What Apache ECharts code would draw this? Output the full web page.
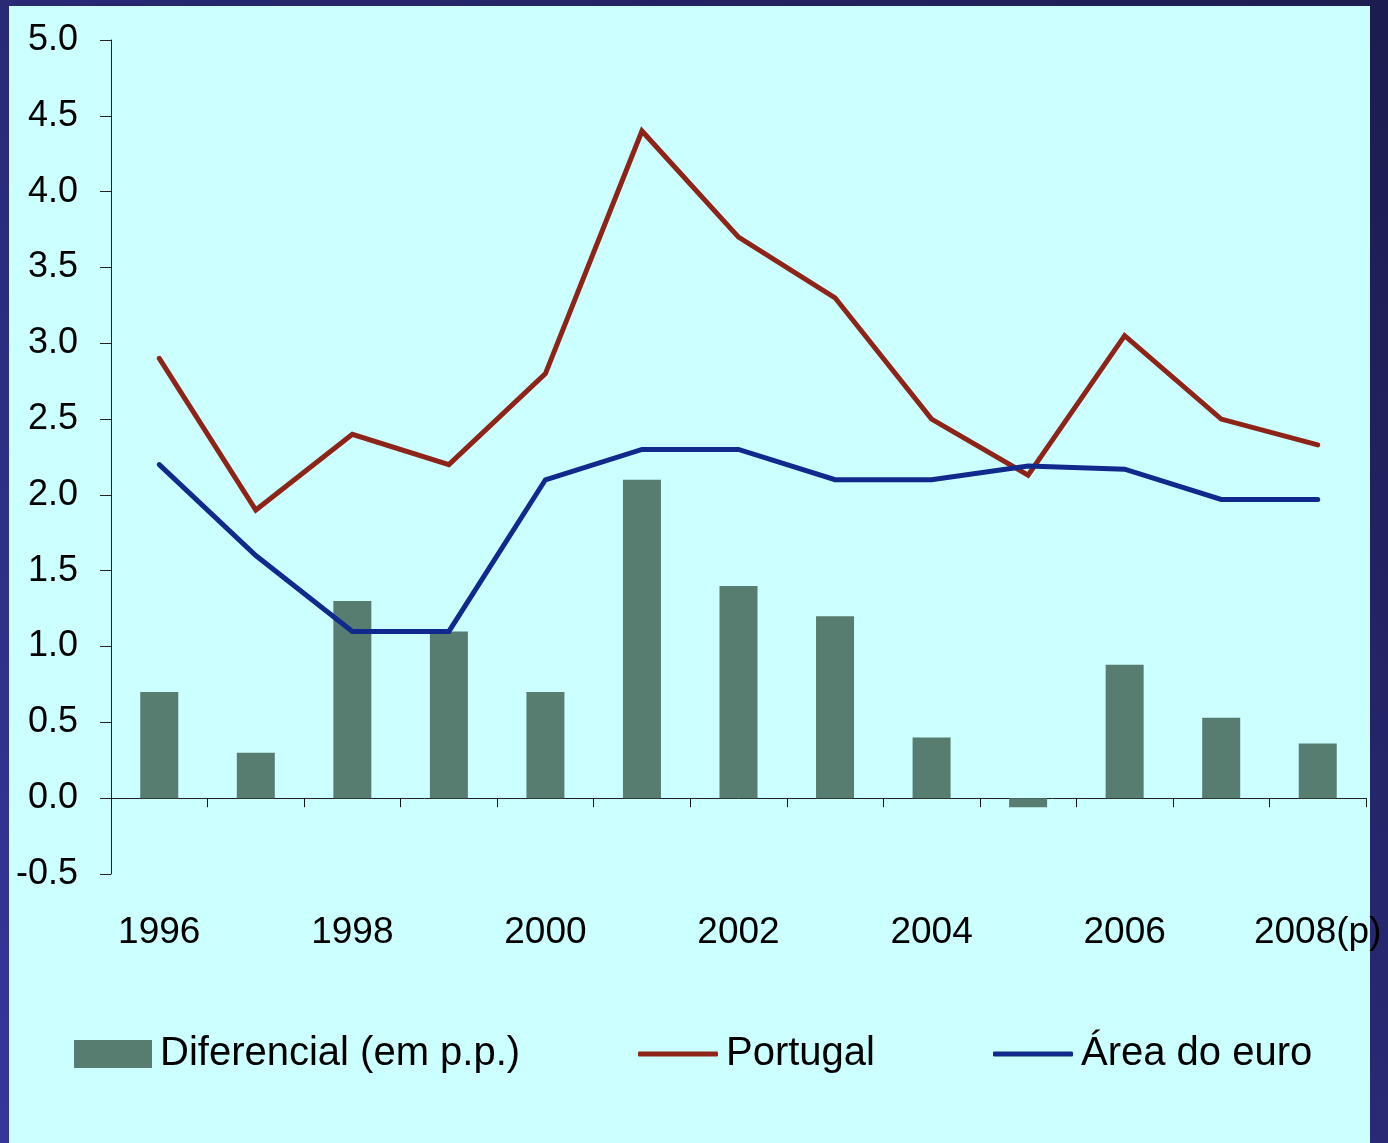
<!DOCTYPE html>
<html>
<head>
<meta charset="utf-8">
<script src="https://cdn.jsdelivr.net/npm/echarts@6/dist/echarts.min.js"></script>
<style>
  html, body { margin: 0; padding: 0; }
  body {
    width: 1388px; height: 1143px; overflow: hidden; position: relative;
    background: linear-gradient(to top right, #36369a, #1c1c50);
  }
  #panel {
    position: absolute; left: 9px; top: 6px; width: 1361px; height: 1137px;
    background: #CCFFFF;
  }
  #chart {
    position: absolute; left: 0; top: 0; width: 1388px; height: 1143px;
  }
</style>
</head>
<body>
<div id="panel"></div>
<div id="chart"></div>
<script>
// Inflation, Portugal vs euro area (%), and the differential in percentage points
const years = ['1996', '1997', '1998', '1999', '2000', '2001', '2002', '2003', '2004', '2005', '2006', '2007', '2008(p)'];
const portugal = [2.9, 1.9, 2.4, 2.2, 2.8, 4.4, 3.7, 3.3, 2.5, 2.13, 3.05, 2.5, 2.33];
const euroArea = [2.2, 1.6, 1.1, 1.1, 2.1, 2.3, 2.3, 2.1, 2.1, 2.19, 2.17, 1.97, 1.97];
const differential = [0.7, 0.3, 1.3, 1.1, 0.7, 2.1, 1.4, 1.2, 0.4, -0.06, 0.88, 0.53, 0.36];

const seriesNames = ['Diferencial (em p.p.)', 'Portugal', 'Área do euro'];
const yTicks = { min: -0.5, max: 5, step: 0.5 };

const FONT = 'Liberation Sans, Arial, sans-serif';
const BAR_COLOR = '#567D70';
const PT_COLOR = '#8E2418';
const EA_COLOR = '#0F2A8C';

const chart = echarts.init(document.getElementById('chart'), null, { renderer: 'canvas' });

const legendText = { fontFamily: FONT, fontSize: 40, color: '#000', padding: [0, 0, 0, 3] };

chart.setOption({
  backgroundColor: 'transparent',
  animation: false,
  grid: { left: 111, right: 22, top: 40, bottom: 269, containLabel: false, outerBoundsMode: 'none' },
  legend: [
    { data: [seriesNames[0]], left: 69, top: 1029, icon: 'rect', itemWidth: 78, itemHeight: 28,
      textStyle: legendText, selectedMode: false },
    { data: [seriesNames[1]], left: 633, top: 1029, icon: 'roundRect', itemWidth: 80, itemHeight: 5,
      textStyle: legendText, selectedMode: false },
    { data: [seriesNames[2]], left: 988, top: 1029, icon: 'roundRect', itemWidth: 80, itemHeight: 5,
      textStyle: legendText, selectedMode: false }
  ],
  xAxis: {
    type: 'category',
    data: years,
    boundaryGap: true,
    axisLine: { onZero: true, lineStyle: { color: '#222', width: 1 } },
    axisTick: { show: true, interval: 0, length: 9, inside: false, lineStyle: { color: '#111', width: 1 } },
    axisLabel: { interval: 1, margin: 40, fontFamily: FONT, fontSize: 37, color: '#000' },
    splitLine: { show: false }
  },
  yAxis: {
    type: 'value',
    min: yTicks.min,
    max: yTicks.max,
    interval: yTicks.step,
    axisLine: { show: true, lineStyle: { color: '#222', width: 1 } },
    axisTick: { show: true, length: 11, lineStyle: { color: '#222', width: 1 } },
    axisLabel: { margin: 33, fontFamily: FONT, fontSize: 36, color: '#000',
      formatter: v => v.toFixed(1) },
    splitLine: { show: false }
  },
  series: [
    {
      name: seriesNames[0], type: 'bar', data: differential, barWidth: 38,
      itemStyle: { color: BAR_COLOR }, z: 1
    },
    {
      name: seriesNames[1], type: 'line', data: portugal, symbol: 'none',
      lineStyle: { color: PT_COLOR, width: 5, cap: 'round', join: 'miter' },
      itemStyle: { color: PT_COLOR }, z: 3
    },
    {
      name: seriesNames[2], type: 'line', data: euroArea, symbol: 'none',
      lineStyle: { color: EA_COLOR, width: 5, cap: 'round', join: 'miter' },
      itemStyle: { color: EA_COLOR }, z: 4
    }
  ]
});
</script>
</body>
</html>
